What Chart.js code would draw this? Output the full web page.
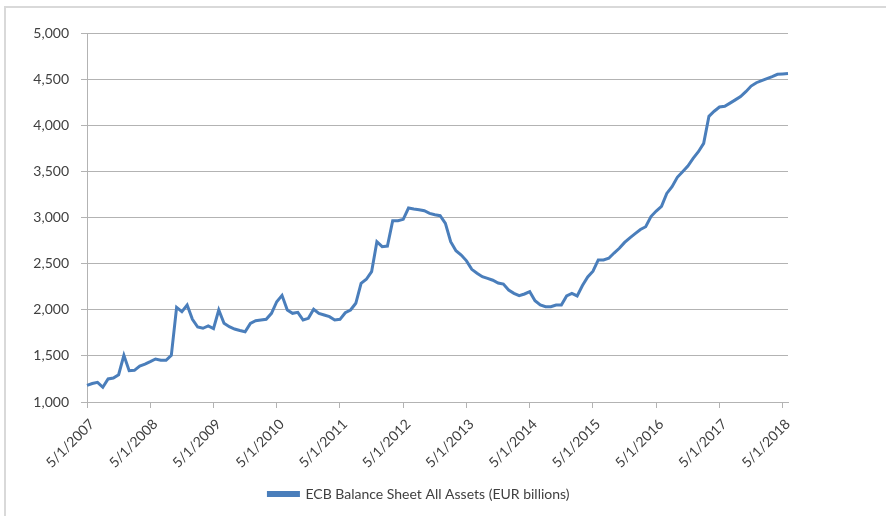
<!DOCTYPE html>
<html>
<head>
<meta charset="utf-8">
<script src="https://cdn.jsdelivr.net/npm/chart.js@4.4.1/dist/chart.umd.min.js"></script>
<style>
    html, body { margin: 0; padding: 0; background: #fff; }
    #wrap { position: relative; width: 886px; height: 516px; overflow: hidden; }
    #frame { position: absolute; left: 4px; top: 6px; width: 900px; height: 600px;
             border-left: 2px solid #d9d9d9; border-top: 2px solid #d9d9d9; }
    #chart { position: absolute; left: 0; top: 0; }
</style>
</head>
<body>
<div id="wrap">
    <div id="frame"></div>
    <canvas id="chart" width="886" height="516"></canvas>
</div>
<script>
// Monthly observations, May 2007 .. June 2018
const startYear = 2007;
const startMonth = 5;
const seriesName = 'ECB Balance Sheet All Assets (EUR billions)';

const assets = [
    1180, 1200, 1213, 1160, 1250, 1260, 1296, 1506, 1340, 1343, 1390, 1410,
    1437, 1466, 1452, 1452, 1506, 2026, 1979, 2052, 1896, 1813, 1799, 1824,
    1795, 1997, 1853, 1816, 1791, 1775, 1762, 1852, 1881, 1889, 1896, 1961,
    2087, 2156, 1997, 1961, 1972, 1889, 1907, 2005, 1961, 1943, 1925, 1889,
    1896, 1968, 1997, 2070, 2287, 2330, 2413, 2738, 2684, 2690, 2965, 2965,
    2980, 3103, 3092, 3085, 3074, 3045, 3030, 3020, 2937, 2738, 2640, 2593,
    2530, 2438, 2395, 2358, 2340, 2320, 2290, 2278, 2214, 2178, 2152, 2171,
    2196, 2098, 2052, 2033, 2033, 2052, 2052, 2150, 2178, 2150, 2262, 2355,
    2418, 2540, 2540, 2558, 2615, 2666, 2730, 2780, 2825, 2870, 2900, 3010,
    3070, 3120, 3261, 3334, 3436, 3497, 3558, 3641, 3713, 3804, 4097, 4152,
    4198, 4205, 4240, 4275, 4310, 4364, 4425, 4461, 4483, 4505, 4527, 4552,
    4556, 4560
];

const yTicks = [1000, 1500, 2000, 2500, 3000, 3500, 4000, 4500, 5000];

// category labels like "5/1/2007"
const dates = assets.map((v, i) => {
    const m = (startMonth - 1 + i) % 12 + 1;
    const y = startYear + Math.floor((startMonth - 1 + i) / 12);
    return m + '/1/' + y;
});

const gridGray = '#b3b3b3';
const textColor = '#404040';
const fontFamily = 'Lato, "Open Sans", sans-serif';

const ctx = document.getElementById('chart').getContext('2d');
new Chart(ctx, {
    type: 'line',
    data: {
        labels: dates,
        datasets: [{
            label: seriesName,
            data: assets,
            borderColor: '#4a7ebb',
            backgroundColor: '#4a7ebb',
            borderWidth: 3,
            pointRadius: 0,
            tension: 0,
            fill: false
        }]
    },
    options: {
        responsive: false,
        animation: false,
        layout: { padding: { top: 33, right: 48, bottom: 5, left: 0 } },
        plugins: {
            tooltip: { enabled: false },
            legend: {
                position: 'bottom',
                labels: {
                    boxWidth: 30,
                    boxHeight: 3,
                    padding: 10,
                    color: textColor,
                    font: { family: fontFamily, size: 14 }
                }
            }
        },
        scales: {
            x: {
                type: 'category',
                offset: false,
                afterFit: s => { s.height = 75; },
                grid: {
                    drawOnChartArea: false,
                    drawTicks: true,
                    tickLength: 6,
                    color: gridGray
                },
                border: { display: true, color: gridGray, width: 1 },
                ticks: {
                    autoSkip: false,
                    maxRotation: 45,
                    minRotation: 45,
                    padding: 8,
                    labelOffset: 5,
                    color: textColor,
                    font: { family: fontFamily, size: 14 },
                    callback: function (value, index) {
                        return index % 12 === 0 ? dates[index] : null;
                    }
                }
            },
            y: {
                min: yTicks[0],
                max: yTicks[yTicks.length - 1],
                afterFit: s => { s.width = 87; },
                afterBuildTicks: s => { s.ticks = yTicks.map(v => ({ value: v })); },
                grid: {
                    color: gridGray,
                    drawTicks: true,
                    tickLength: 6,
                    lineWidth: 1
                },
                border: { display: true, color: gridGray, width: 1 },
                ticks: {
                    padding: 12,
                    color: textColor,
                    font: { family: fontFamily, size: 14 },
                    callback: v => v.toLocaleString('en-US')
                }
            },
            // empty spacer on the right so the legend sits where Excel put it
            spacer: {
                position: 'right',
                min: 0,
                max: 1,
                afterFit: s => { s.width = 50; },
                grid: { display: false },
                border: { display: false },
                ticks: { display: false }
            }
        }
    }
});
</script>
</body>
</html>
